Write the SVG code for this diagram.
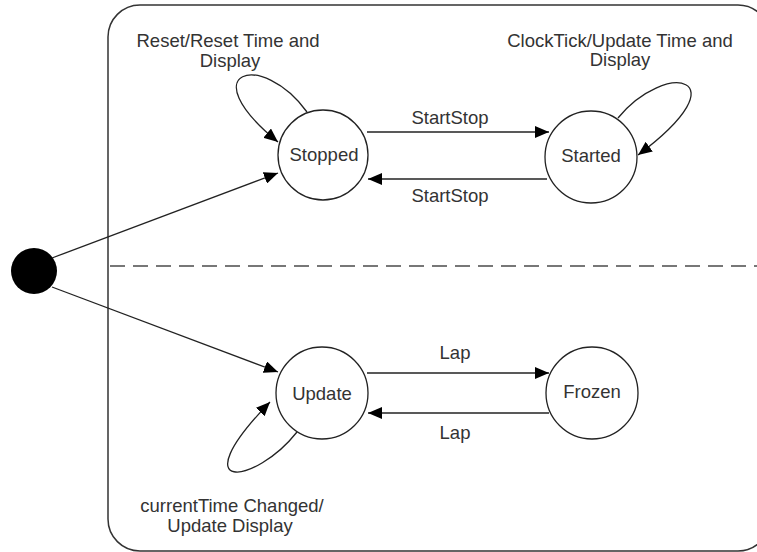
<svg xmlns="http://www.w3.org/2000/svg" width="757" height="552" viewBox="0 0 757 552">
<defs>
<marker id="arr" markerWidth="14" markerHeight="12" refX="14" refY="6" orient="auto" markerUnits="userSpaceOnUse">
<path d="M0,0 L14,6 L0,12 z" fill="#000"/>
</marker>
</defs>
<style>
.state{fill:#fff;stroke:#222;stroke-width:1.3}
.lbl{font-family:"Liberation Sans",Arial,sans-serif;font-size:18.5px;fill:#333;text-anchor:middle}
.edge{fill:none;stroke:#222;stroke-width:1.3;marker-end:url(#arr)}
</style>
<rect width="757" height="552" fill="#fff"/>
<g id="container">
<rect x="108" y="5" width="662" height="546" rx="32" ry="32" fill="none" stroke="#333" stroke-width="1.5"/>
<line x1="110" y1="266" x2="757" y2="266" stroke="#777" stroke-width="2.2" stroke-dasharray="15,8"/>
</g>
<g id="initial"><circle cx="34" cy="271" r="23" fill="#000"/></g>
<g id="stopped"><circle class="state" cx="323" cy="155" r="45"/><text class="lbl" x="324" y="161">Stopped</text></g>
<g id="started"><circle class="state" cx="591" cy="157" r="46"/><text class="lbl" x="591" y="162">Started</text></g>
<g id="update"><circle class="state" cx="322" cy="393" r="46"/><text class="lbl" x="322" y="400">Update</text></g>
<g id="frozen"><circle class="state" cx="592" cy="393" r="46"/><text class="lbl" x="592" y="398">Frozen</text></g>
<g id="connectors">
<line class="edge" x1="52" y1="258" x2="278" y2="173"/>
<line class="edge" x1="52" y1="287" x2="278" y2="372"/>
<line class="edge" x1="367" y1="132" x2="549" y2="132"/>
<line class="edge" x1="547" y1="179" x2="368" y2="179"/>
<line class="edge" x1="367" y1="373" x2="549" y2="373"/>
<line class="edge" x1="549" y1="413" x2="368" y2="413"/>
<path class="edge" d="M307,112 C262,50 190,70 278,142"/>
<path class="edge" d="M618,118 C665,60 745,75 638,155"/>
<path class="edge" d="M297,432 C255,485 180,495 270,402"/>
<text class="lbl" x="228" y="47">Reset/Reset Time and</text>
<text class="lbl" x="230" y="67">Display</text>
<text class="lbl" x="620" y="47">ClockTick/Update Time and</text>
<text class="lbl" x="620" y="66">Display</text>
<text class="lbl" x="450" y="124">StartStop</text>
<text class="lbl" x="450" y="202">StartStop</text>
<text class="lbl" x="455" y="359">Lap</text>
<text class="lbl" x="455" y="439">Lap</text>
<text class="lbl" x="232" y="512">currentTime Changed/</text>
<text class="lbl" x="230" y="532">Update Display</text>
</g>
</svg>
